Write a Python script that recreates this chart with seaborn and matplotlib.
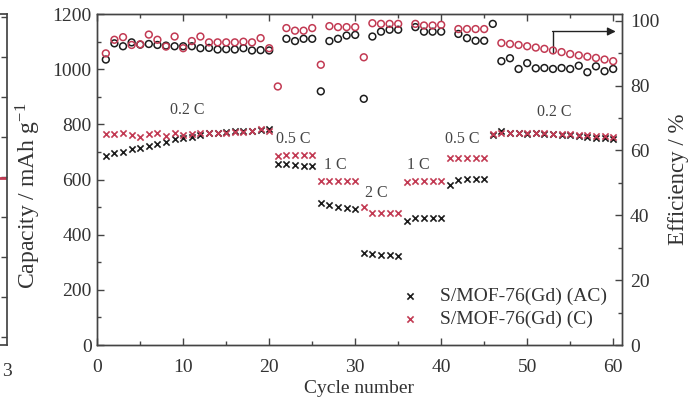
import numpy as np
import pandas as pd
import matplotlib
matplotlib.use("Agg")
import matplotlib.pyplot as plt
from matplotlib.ticker import MultipleLocator
import seaborn as sns

nan = np.nan

# Cycle index and C-rate segments
cycles = list(range(1, 61))

# Discharge capacity (mAh g-1)
cap_ac = [685, 695, 700, 710, 716, 722, 729, 737, 746, 749,
          755, 761, 768, 770, 772, 775, 777, 777, 780, 782,
          656, 655, 652, 650, 648,
          514, 508, 502, 497, 492,
          335, 330, 326, 326, 323,
          451, 459, 459, 460, 460,
          580, 598, 602, 602, 602,
          762, 775, 768, 770, 765, 768, 765, 765, 762, 760, 758, 755, 752, 750, 748]
cap_c = [765, 765, 770, 761, 755, 765, 770, 758, 770, 761,
         765, 768, 770, 770, 770, 772, 772, 775, 782, 777,
         686, 690, 688, 688, 690,
         596, 596, 596, 596, 596,
         501, 477, 477, 477, 477,
         592, 595, 595, 595, 595,
         677, 677, 677, 677, 677,
         765, 768, 770, 768, 770, 768, 768, 765, 765, 765, 762, 760, 758, 757, 755]

# Coulombic efficiency (%)
eff_ac = [88.0, 93.0, 92.1, 93.3, 92.6, 92.8, 92.5, 92.3, 92.1, 92.1,
          92.1, 91.5, 91.6, 91.1, 91.2, 91.1, 91.5, 90.8, 90.9, 90.8,
          nan, 94.4, 93.7, 94.4, 94.4,
          78.2, 93.7, 94.4, 95.4, 95.6,
          75.9, 95.1, 96.6, 97.2, 97.2,
          nan, 98.0, 96.6, 96.6, 96.6,
          nan, 95.9, 94.6, 93.8, 93.8,
          99.0, 87.5, 88.4, 85.1, 86.9, 85.3, 85.4, 85.1, 85.4, 85.1, 86.1, 84.1, 85.9, 84.4, 85.1]
eff_c = [89.9, 94.1, 94.9, 92.5, 92.7, 95.7, 94.1, 92.0, 95.1, 91.5,
         93.7, 95.1, 93.3, 93.3, 93.3, 93.3, 93.5, 93.3, 94.6, 91.5,
         79.7, 97.7, 96.9, 96.9, 97.7,
         86.4, 98.3, 98.0, 98.0, 98.0,
         88.7, 99.2, 99.0, 99.0, 99.0,
         nan, 99.0, 98.5, 98.5, 98.7,
         nan, 97.4, 97.4, 97.4, 97.4,
         nan, 93.1, 92.8, 92.5, 92.1, 91.7, 91.3, 90.8, 90.3, 89.7, 89.3, 88.9, 88.5, 88.0, 87.5]

rate_labels = ["0.2 C", "0.5 C", "1 C", "2 C", "1 C", "0.5 C", "0.2 C"]
rate_label_x = [10.5, 22.8, 27.7, 32.5, 37.3, 42.5, 53.1]
rate_label_y = [852, 747, 653, 551, 653, 747, 845]

series_names = ["S/MOF-76(Gd) (AC)", "S/MOF-76(Gd) (C)"]

df = pd.DataFrame({"cycle": cycles, "cap_ac": cap_ac, "cap_c": cap_c,
                   "eff_ac": eff_ac, "eff_c": eff_c})

sns.set_theme(style="ticks")
plt.rcParams["font.family"] = ["Liberation Serif", "DejaVu Serif"]
plt.rcParams["mathtext.fontset"] = "stix"

BLACK = "#1c1c1c"
RED = "#c23a53"
GREY = "#444444"
FS = 14

fig = plt.figure(figsize=(6.92, 4.04), dpi=100)
ax = fig.add_axes([0.1405, 0.146, 0.758, 0.819])
ax2 = ax.twinx()

# Capacity (crosses, left axis)
sns.scatterplot(data=df, x="cycle", y="cap_ac", ax=ax, marker="x", color=BLACK,
                s=20, linewidth=1.2, label=series_names[0], zorder=3)
sns.scatterplot(data=df, x="cycle", y="cap_c", ax=ax, marker="x", color=RED,
                s=20, linewidth=1.2, label=series_names[1], zorder=3)

# Efficiency (open circles, right axis)
sns.scatterplot(data=df, x="cycle", y="eff_ac", ax=ax2, marker="o", s=24,
                facecolor="none", edgecolor=BLACK, linewidth=1.1, legend=False)
sns.scatterplot(data=df, x="cycle", y="eff_c", ax=ax2, marker="o", s=24,
                facecolor="none", edgecolor=RED, linewidth=1.1, legend=False)

ax.set_xlim(0, 61)
ax.set_ylim(0, 1200)
ax2.set_ylim(0, 102)

ax.xaxis.set_major_locator(MultipleLocator(10))
ax.xaxis.set_minor_locator(MultipleLocator(5))
ax.yaxis.set_major_locator(MultipleLocator(200))
ax.yaxis.set_minor_locator(MultipleLocator(100))
ax2.yaxis.set_major_locator(MultipleLocator(20))
ax2.yaxis.set_minor_locator(MultipleLocator(10))

ax.tick_params(axis="x", which="both", direction="in", top=True, bottom=True,
               colors=GREY, labelcolor="#333333", labelsize=FS, pad=10)
ax.tick_params(axis="y", which="both", direction="in", left=True, right=False,
               colors=GREY, labelcolor="#333333", labelsize=FS, pad=4)
ax2.tick_params(axis="y", which="both", direction="in", right=True, left=False,
                colors=GREY, labelcolor="#333333", labelsize=FS, pad=6)
for a in (ax, ax2):
    a.tick_params(which="major", length=5, width=1.0)
    a.tick_params(which="minor", length=3, width=1.0)
    for sp in a.spines.values():
        sp.set_visible(True)
        sp.set_color(GREY)
        sp.set_linewidth(1.0)

ax.set_xlabel("Cycle number", fontsize=FS, color="#333333", labelpad=3)
ax.set_ylabel("Capacity / mAh g$^{\\mathregular{-1}}$", fontsize=17, color="#333333")
ax.yaxis.set_label_coords(-0.103, 0.45)
ax2.set_ylabel("Efficiency / %", fontsize=16.5, color="#333333")
ax2.yaxis.set_label_coords(1.088, 0.50)

for lab, lx, ly in zip(rate_labels, rate_label_x, rate_label_y):
    ax.text(lx, ly, lab, fontsize=11.5, color="#444444", ha="center", va="center")

# Arrow pointing to the efficiency axis
ax.plot([53.0, 53.0], [1059, 1137], color="#222222", lw=1.0)
ax.annotate("", xy=(60.3, 1137), xytext=(52.95, 1137),
            arrowprops=dict(arrowstyle="-|>", color="#222222", lw=1.0,
                            mutation_scale=12, shrinkA=0, shrinkB=0))

leg = ax.legend(loc="upper left", bbox_to_anchor=(0.56, 0.197), frameon=False,
                fontsize=FS, handletextpad=0.9, labelspacing=0.25,
                handlelength=1.2, borderaxespad=0)
for t in leg.get_texts():
    t.set_color("#333333")

# Edge of the neighbouring panel
ax0 = fig.add_axes([-0.2, 0.146, 0.21, 0.819])
ax0.set_xlim(0, 3)
ax0.set_ylim(0, 1)
ax0.set_xticks([3])
ax0.set_xticklabels(["3"])
ax0.yaxis.tick_right()
ax0.set_yticks(np.arange(0.024, 1.0, 0.121))
ax0.tick_params(axis="y", direction="in", length=4, width=1.0, colors=GREY, labelright=False)
ax0.tick_params(axis="x", direction="in", length=0, labelsize=FS, labelcolor="#333333", pad=13)
for sp in ax0.spines.values():
    sp.set_color(GREY)
neighbour_level = 0.505
ax0.axhline(neighbour_level, color=RED, lw=2)

fig.savefig("out.png", dpi=100)
